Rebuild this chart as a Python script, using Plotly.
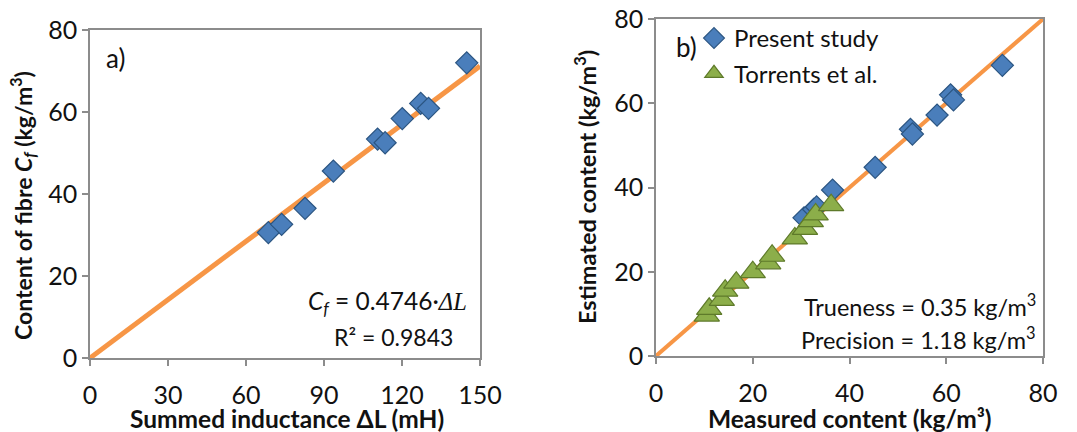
import plotly.graph_objects as go

# ---- Data ----
# Panel a) : summed inductance (mH) vs fibre content (kg/m3)
inductance_mH = [68.6, 73.7, 82.7, 93.6, 110.6, 113.5, 120.1, 127.2, 130.2, 144.9]
fibre_content = [30.6, 32.6, 36.5, 45.6, 53.4, 52.5, 58.4, 62.1, 60.9, 72.0]
fit_slope = 0.4746
fit_x_range = [0, 150]

# Panel b) : measured vs estimated content (kg/m3)
present_measured = [30.6, 32.6, 33.2, 36.5, 45.3, 52.6, 53.0, 58.1, 60.9, 61.5, 71.6]
present_estimated = [32.8, 34.8, 35.4, 39.4, 44.8, 53.8, 52.7, 57.2, 62.0, 60.8, 69.0]
torrents_measured = [10.5, 11.0, 13.6, 14.3, 16.6, 20.0, 23.2, 24.0, 28.7, 30.8, 32.0, 33.0, 36.2]
torrents_estimated = [9.6, 11.2, 13.3, 15.5, 17.4, 19.9, 22.0, 23.8, 27.9, 30.2, 32.0, 33.6, 35.8]
identity_range = [0, 80]

left_xticks = [0, 30, 60, 90, 120, 150]
left_yticks = [0, 20, 40, 60, 80]
right_ticks = [0, 20, 40, 60, 80]

FONT = "Lato, 'Open Sans', sans-serif"
BLUE = "#4A7EBB"
BLUE_EDGE = "#2B5582"
GREEN = "#8CAE4A"
GREEN_EDGE = "#5E7A2A"
ORANGE = "#F79646"
AXIS = "#8C8C8C"

# page body has an 8px margin: figure is drawn 8px in from the window corner
OFF = 8
W, H = 1077 - OFF, 432 - OFF
def px(x):
    return (x - OFF) / W
def py(y):
    return 1 - (y - OFF) / H

fig = go.Figure()

# Left panel
fig.add_trace(go.Scatter(
    x=fit_x_range, y=[fit_slope * v for v in fit_x_range],
    mode="lines", line=dict(color=ORANGE, width=5),
    xaxis="x", yaxis="y", showlegend=False, hoverinfo="skip"))
fig.add_trace(go.Scatter(
    x=inductance_mH, y=fibre_content, mode="markers",
    marker=dict(symbol="diamond", size=17, color=BLUE,
                line=dict(color=BLUE_EDGE, width=1.2)),
    xaxis="x", yaxis="y", showlegend=False))

# Right panel
fig.add_trace(go.Scatter(
    x=identity_range, y=identity_range,
    mode="lines", line=dict(color=ORANGE, width=4),
    xaxis="x2", yaxis="y2", showlegend=False, hoverinfo="skip"))
fig.add_trace(go.Scatter(
    x=present_measured, y=present_estimated, mode="markers",
    name="Present study", legendgroup="a",
    marker=dict(symbol="diamond", size=17, color=BLUE,
                line=dict(color=BLUE_EDGE, width=1.2)),
    xaxis="x2", yaxis="y2"))
fig.add_trace(go.Scatter(
    x=torrents_measured, y=torrents_estimated, mode="markers",
    name="Torrents et al.", legendgroup="b",
    marker=dict(symbol="triangle-up", size=22, color=GREEN,
                line=dict(color=GREEN_EDGE, width=1.2)),
    xaxis="x2", yaxis="y2"))

axis_common = dict(
    showline=True, linecolor=AXIS, linewidth=1.5, mirror=True,
    showgrid=False, zeroline=False, ticks="outside", ticklen=6,
    tickcolor=AXIS, tickwidth=1.5, automargin=False,
    ticklabeloverflow="allow",
    tickfont=dict(family=FONT, size=25, color="#111111"),
)

fig.update_layout(
    width=W, height=H,
    margin=dict(l=0, r=0, t=0, b=0, autoexpand=False),
    paper_bgcolor="white", plot_bgcolor="white",
    font=dict(family=FONT, color="#111111"),
    xaxis=dict(domain=[px(90), px(480)], range=[0, 150], tickvals=left_xticks,
               anchor="y", ticklabelstandoff=8, **axis_common),
    yaxis=dict(domain=[py(358), py(30)], range=[0, 80], tickvals=left_yticks,
               anchor="x", **axis_common),
    xaxis2=dict(domain=[px(656), px(1043)], range=[0, 80], tickvals=right_ticks,
                anchor="y2", ticklabelstandoff=8, **axis_common),
    yaxis2=dict(domain=[py(356), py(19)], range=[0, 80], tickvals=right_ticks,
                anchor="x2", **axis_common),
    legend=dict(x=px(694), y=py(16), xanchor="left", yanchor="top",
                bgcolor="rgba(0,0,0,0)", tracegroupgap=1,
                font=dict(family=FONT, size=24, color="#111111"),
                itemwidth=30),
)

ann = [
    # axis titles
    dict(x=px(287), y=py(418), text="<b>Summed inductance ΔL (mH)</b>", font_size=24.5),
    dict(x=px(22), y=py(206), text="<b>Content of fibre <i>C<sub>f</sub></i> (kg/m<sup>3</sup>)</b>",
         textangle=-90, font_size=23),
    dict(x=px(850), y=py(418), text="<b>Measured content (kg/m³)</b>", font_size=24.5),
    dict(x=px(585), y=py(187), text="<b>Estimated content (kg/m<sup>3</sup>)</b>",
         textangle=-90, font_size=23.5),
    # panel labels
    dict(x=px(104), y=py(58), text="a)", xanchor="left", font_size=26),
    dict(x=px(674), y=py(47), text="b)", xanchor="left", font_size=26),
    # equation
    dict(x=px(469), y=py(302), xanchor="right",
         text="<i>C<sub>f</sub></i> = 0.4746·<span style=\"font-family:'Liberation Serif',serif\"><i>ΔL</i></span>",
         font_size=24.5),
    dict(x=px(393), y=py(337), text="R² = 0.9843", font_size=23),
    dict(x=px(1038), y=py(305), xanchor="right", text="Trueness = 0.35 kg/m<sup>3</sup>", font_size=23.5),
    dict(x=px(1038), y=py(338), xanchor="right", text="Precision = 1.18 kg/m<sup>3</sup>", font_size=23.5),
]
for a in ann:
    a.setdefault("xanchor", "center")
    a.update(xref="paper", yref="paper", yanchor="middle", showarrow=False)
    fs = a.pop("font_size")
    a["font"] = dict(family=FONT, size=fs, color="#111111")
fig.update_layout(annotations=ann)

fig.write_html("out.html")
